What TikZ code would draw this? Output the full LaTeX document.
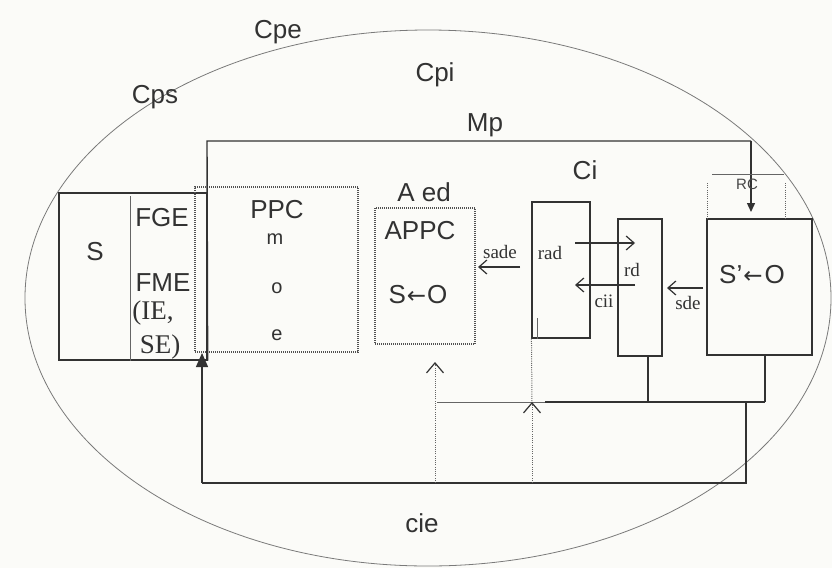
\documentclass[tikz,border=0pt]{standalone}
\usepackage{fontspec}
\setmainfont{Liberation Sans}
\newfontfamily\serifx{Liberation Serif}
\newfontfamily\arrowf{DejaVu Sans}
\usetikzlibrary{arrows.meta}
\definecolor{ink}{RGB}{50,50,50}
\definecolor{paper}{RGB}{251,251,248}
\begin{document}
\begin{tikzpicture}[x=1pt,y=-1pt,
  ln/.style={draw=ink,line width=1.4pt},
  thinln/.style={draw=ink!75,line width=0.8pt},
  dotln/.style={draw=ink!75,line width=1pt,dash pattern=on 1pt off 1.2pt},
  ell/.style={draw=ink!65,line width=0.8pt},
  solidbox/.style={draw=ink,line width=1.3pt,inner sep=0pt},
  dotbox/.style={draw=ink!85,line width=1.2pt,dash pattern=on 1pt off 1pt,inner sep=0pt},
  lbl/.style={text=ink,inner sep=0pt,font=\fontsize{26}{26}\selectfont},
  smlbl/.style={text=ink,inner sep=0pt,font=\fontsize{20}{20}\selectfont},
  slbl/.style={text=ink,inner sep=0pt,font=\serifx\fontsize{19}{19}\selectfont},
  blbl/.style={text=ink,inner sep=0pt,font=\serifx\fontsize{27}{27}\selectfont},
  harr/.style={draw=ink,line width=1.2pt,-{Straight Barb[length=8pt,width=14pt,line width=1.2pt]}},
  bigbarb/.style={-{Straight Barb[length=10pt,width=17pt,line width=1.2pt,color=ink]}},
  tri/.style={-{Triangle[length=14pt,width=12pt]}},
  smtri/.style={-{Triangle[length=9pt,width=8pt]}}
]
\useasboundingbox[fill=paper] (0,0) rectangle (832,568);

% outer ellipse
\draw[ell] (428,298) ellipse [x radius=403pt, y radius=268pt];

% boxes
\node[solidbox, minimum width=148, minimum height=167] (Sbox) at (133,276.5) {};
\node[dotbox, minimum width=163, minimum height=165] (PPC) at (276.5,269.5) {};
\node[dotbox, minimum width=100, minimum height=136] (APPC) at (425,276) {};
\node[solidbox, line width=1.1pt, minimum width=58, minimum height=136] (rad) at (561,270) {};
\node[solidbox, minimum width=44, minimum height=137] (rd) at (640,287.5) {};
\node[solidbox, minimum width=105, minimum height=136] (SO) at (759.5,287) {};

% divider inside S box
\coordinate (dvT) at (130,196);
\draw[thinln] (dvT) -- (dvT |- Sbox.south);
% small tick in rad box
\coordinate (tk) at (537,318);
\draw[thinln] (tk) -- (tk |- rad.south);

% Mp frame and RC arrow
\coordinate (mpL) at (207,141);
\coordinate (mpR) at (751,141);
\coordinate (rcTip) at (751,212);
\draw[ln] (Sbox.south east) -- (mpL) -- (mpR);
\draw[ln, smtri] (mpR) -- (rcTip);
\coordinate (rcA) at (712,174);
\coordinate (rcB) at (784,174);
\draw[thinln] (rcA) -- (rcB);
\coordinate (rcL) at (707,183);
\coordinate (rcR) at (785,183);
\draw[dotln] (rcL) -- (rcL |- SO.north);
\draw[dotln] (rcR) -- (rcR |- SO.north);

% horizontal arrows
\coordinate (sadeS) at (520,267);
\coordinate (sadeE) at (478,267);
\draw[harr] (sadeS) -- (sadeE);
\coordinate (raS) at (575,243);
\coordinate (raE) at (635,243);
\draw[harr] (raS) -- (raE);
\coordinate (ciS) at (635,285);
\coordinate (ciE) at (575,285);
\draw[harr] (ciS) -- (ciE);
\coordinate (sdS) at (703,288);
\coordinate (sdE) at (667,288);
\draw[harr] (sdS) -- (sdE);

% bottom network
\coordinate (botL) at (202,483);
\coordinate (botR) at (746,483);
\coordinate (midR) at (746,402);
\coordinate (hL) at (437,402);
\coordinate (hM) at (545,402);
\coordinate (hR) at (765,402);
\coordinate (rdB) at (648,356);
\coordinate (soB) at (765,355);
\draw[ln] (botL) -- (botR) -- (midR);
\draw[thinln] (hL) -- (hM);
\draw[ln] (hM) -- (hR);
\draw[ln] (rdB) -- (rdB |- hR);
\draw[ln] (soB) -- (hR);
\coordinate (sTip) at (202,353);
\draw[ln, tri] (botL) -- (sTip);

% dotted up-arrows
\coordinate (dA) at (435,483);
\coordinate (dAtip) at (435,362);
\draw[dotln, bigbarb] (dA) -- (dAtip);
\coordinate (dB) at (532,483);
\coordinate (dBtip) at (532,402);
\draw[dotln, bigbarb] (dB) -- (dBtip);
\draw[dotln] (rad.south west) -- (dBtip);

% labels
\node[lbl] (cpe) at (278,32) {Cpe};
\node[lbl] (cps) at (155,97) {Cps};
\node[lbl] (cpi) at (435,75) {Cpi};
\node[lbl] (mp) at (485,125) {Mp};
\node[lbl] (ci) at (585,170) {Ci};
\node[lbl] (aed) at (424,192) {A ed};
\node[lbl] (ppct) at (277,210) {PPC};
\node[smlbl] (mt) at (275,239) {m};
\node[smlbl] (ot) at (277,288) {o};
\node[smlbl] (et) at (277,335) {e};
\node[lbl] (st) at (95,252) {S};
\node[lbl] (fge) at (162,218) {FGE};
\node[lbl] (fme) at (163,283) {FME};
\node[blbl] (ie) at (153,313) {(IE,};
\node[blbl] (se) at (160,347) {SE)};
\node[lbl] (appct) at (420,231) {APPC};
\node[lbl] (sot) at (418,295) {S{\arrowf\fontsize{23}{23}\selectfont\kern1pt←\kern1pt}O};
\node[slbl] (sade) at (500,252) {sade};
\node[slbl] (radt) at (550,253) {rad};
\node[slbl] (rdt) at (632,270) {rd};
\node[slbl] (cii) at (604,301) {cii};
\node[slbl] (sde) at (688,303) {sde};
\node[lbl] (sot2) at (752,275) {S'{\arrowf\fontsize{23}{23}\selectfont\kern1pt←\kern2pt}O};
\node[text=ink!90,inner sep=0pt,font=\fontsize{15}{15}\selectfont] (rc) at (747,184) {RC};
\node[lbl] (cie) at (422,523) {cie};
\end{tikzpicture}
\end{document}
